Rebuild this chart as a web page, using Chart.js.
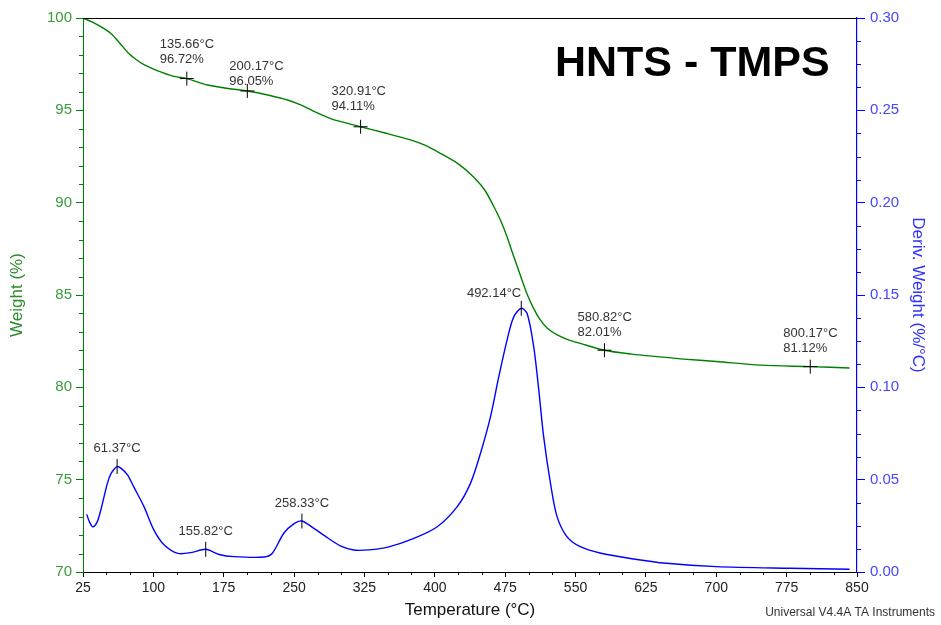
<!DOCTYPE html>
<html>
<head>
<meta charset="utf-8">
<script src="https://cdn.jsdelivr.net/npm/chart.js@4"></script>
<style>
body{margin:0;background:#fff;}
#wrap{width:941px;height:625px;position:relative;}
</style>
</head>
<body>
<div id="wrap"><canvas id="tga" width="941" height="625"></canvas></div>
<script>
// TGA curve (temperature °C, weight %)
const tgaTemp = [25,35,44,55,64,73,82,90,104,122,135.66,158,186,200.17,222,243,257,270,289,305,320.91,345,374,390,406,425,441,453,463,470,477,482,488,493,498,505,512,520,530,541,555,580.82,610,640,665,700,747,800.17,842];
const tgaWeight = [100,99.78,99.53,99.15,98.65,98.12,97.74,97.47,97.15,96.84,96.72,96.37,96.14,96.05,95.83,95.56,95.29,94.97,94.55,94.32,94.11,93.8,93.4,93.1,92.67,92.1,91.41,90.7,89.78,89.05,88.16,87.4,86.53,85.8,85.1,84.3,83.68,83.2,82.85,82.6,82.38,82.01,81.8,81.65,81.53,81.4,81.2,81.12,81.05];

// DTG curve (temperature °C, deriv. weight %/°C)
const dtgTemp = [29,32,35.5,40,44,51,55,61.37,66,72.6,79,90,100.6,111.6,126,140,155.82,170,186,218,227,239,250,258.33,270,286,300,313.5,330,350,377.7,402.6,423.9,438,448.7,459.3,468.2,477,484,492.14,498.4,505.4,510.8,516,523.3,530.3,541,555,576,610,647,700,779,842];
const dtgDeriv = [0.0312,0.027,0.0245,0.027,0.0336,0.048,0.0534,0.0571,0.056,0.0525,0.0462,0.0354,0.0227,0.0146,0.0101,0.0105,0.0123,0.0095,0.0083,0.0081,0.0103,0.021,0.0262,0.0276,0.024,0.0184,0.014,0.0119,0.012,0.0135,0.0182,0.0245,0.0354,0.048,0.0643,0.084,0.1058,0.1256,0.138,0.1428,0.140,0.122,0.0986,0.0733,0.048,0.030,0.019,0.0137,0.0103,0.0072,0.0047,0.0029,0.002,0.0015];

// marked points
const tgaMarkTemp = [135.66,200.17,320.91,580.82,800.17];
const tgaMarkWeight = [96.72,96.05,94.11,82.01,81.12];
const dtgMarkTemp = [61.37,155.82,258.33,492.14];
const dtgMarkDeriv = [0.0571,0.0123,0.0276,0.1428];

// axis ticks
const xTicks = [25,100,175,250,325,400,475,550,625,700,775,850];
const weightTicks = [70,75,80,85,90,95,100];
const derivTicks = [0,0.05,0.10,0.15,0.20,0.25,0.30];

// label placement (pixels from marker)
const tgaLabelOffsets = [[-27,-34],[-18,-25],[-29,-35],[-27,-33],[-27,-33]];
const dtgLabelOffsets = [[0,-18,'center'],[0,-18,'center'],[0,-18,'center'],[0,-15,'right']];

const FONT = "'Liberation Sans', Arial, sans-serif";
const GREEN = '#008000';
const BLUE = '#0000ff';

function pts(xs, ys){ return xs.map((x,i) => ({x:x, y:ys[i]})); }

function minorValues(min, max, step, majors){
    const out = [];
    for(let v = min; v <= max + 1e-9; v += step){
        const r = Math.round(v*10000)/10000;
        if(!majors.some(m => Math.abs(m - r) < 1e-6)) out.push(r);
    }
    return out;
}

const extras = {
    id: 'extras',
    afterDraw(chart){
        const ctx = chart.ctx;
        const {x, y, y1} = chart.scales;
        const area = chart.chartArea;
        ctx.save();
        // top frame line
        ctx.strokeStyle = '#000'; ctx.lineWidth = 1;
        ctx.beginPath(); ctx.moveTo(area.left, area.top + 0.5); ctx.lineTo(area.right, area.top + 0.5); ctx.stroke();

        // minor ticks
        ctx.strokeStyle = '#000';
        minorValues(25, 850, 25, xTicks).forEach(v => {
            const px = Math.round(x.getPixelForValue(v)) + 0.5;
            ctx.beginPath(); ctx.moveTo(px, area.bottom); ctx.lineTo(px, area.bottom + 3); ctx.stroke();
        });
        ctx.strokeStyle = GREEN;
        minorValues(70, 100, 1, weightTicks).forEach(v => {
            const py = Math.round(y.getPixelForValue(v)) + 0.5;
            ctx.beginPath(); ctx.moveTo(area.left - 4, py); ctx.lineTo(area.left, py); ctx.stroke();
        });
        ctx.strokeStyle = BLUE;
        minorValues(0, 0.3, 0.0125, derivTicks).forEach(v => {
            const py = Math.round(y1.getPixelForValue(v)) + 0.5;
            ctx.beginPath(); ctx.moveTo(area.right, py); ctx.lineTo(area.right + 4, py); ctx.stroke();
        });

        // marker labels
        ctx.fillStyle = '#333';
        ctx.font = '13px ' + FONT;
        ctx.textBaseline = 'middle';
        tgaMarkTemp.forEach((t,i) => {
            const px = x.getPixelForValue(t), py = y.getPixelForValue(tgaMarkWeight[i]);
            const [dx, dy] = tgaLabelOffsets[i];
            ctx.textAlign = 'left';
            ctx.fillText(t.toFixed(2) + '°C', px + dx, py + dy);
            ctx.fillText(tgaMarkWeight[i].toFixed(2) + '%', px + dx, py + dy + 15);
        });
        dtgMarkTemp.forEach((t,i) => {
            const px = x.getPixelForValue(t), py = y1.getPixelForValue(dtgMarkDeriv[i]);
            const [dx, dy, al] = dtgLabelOffsets[i];
            ctx.textAlign = al;
            ctx.fillText(t.toFixed(2) + '°C', px + dx, py + dy);
        });

        // heading
        ctx.fillStyle = '#000';
        ctx.textAlign = 'left';
        ctx.textBaseline = 'alphabetic';
        ctx.font = 'bold 43px ' + FONT;
        ctx.fillText('HNTS - TMPS', 555, 76);

        // footer
        ctx.fillStyle = '#333';
        ctx.font = '12px ' + FONT;
        ctx.textAlign = 'right';
        ctx.fillText('Universal V4.4A TA Instruments', 935, 616);
        ctx.restore();
    }
};

new Chart(document.getElementById('tga'), {
    type: 'line',
    data: {
        datasets: [
            {data: pts(tgaTemp, tgaWeight), yAxisID: 'y', borderColor: GREEN, borderWidth: 1.4, pointRadius: 0, tension: 0.3, order: 3},
            {data: pts(dtgTemp, dtgDeriv), yAxisID: 'y1', borderColor: BLUE, borderWidth: 1.4, pointRadius: 0, tension: 0.3, order: 4},
            {data: pts(tgaMarkTemp, tgaMarkWeight), yAxisID: 'y', showLine: false, pointStyle: 'cross', pointRadius: 7, borderColor: '#000', borderWidth: 1, order: 1},
            {data: pts(dtgMarkTemp, dtgMarkDeriv), yAxisID: 'y1', showLine: false, pointStyle: 'line', rotation: 90, pointRadius: 7.5, borderColor: '#000', borderWidth: 1, order: 2}
        ]
    },
    options: {
        responsive: false,
        animation: false,
        events: [],
        layout: {padding: {top: 18, left: 0, right: 0, bottom: 0}},
        plugins: {legend: {display: false}, tooltip: {enabled: false}},
        scales: {
            x: {
                type: 'linear', min: 25, max: 850,
                afterBuildTicks: s => { s.ticks = xTicks.map(v => ({value: v})); },
                afterFit: s => { s.height = 53; },
                border: {color: '#000', width: 1},
                grid: {drawOnChartArea: false, tickLength: 5, tickColor: '#000'},
                ticks: {color: '#222', font: {size: 14, family: FONT}, padding: 3, maxRotation: 0, autoSkip: false},
                title: {display: true, text: 'Temperature (°C)', color: '#111', font: {size: 17, family: FONT}, padding: {top: 0, bottom: 4}}
            },
            y: {
                type: 'linear', position: 'left', min: 70, max: 100,
                afterBuildTicks: s => { s.ticks = weightTicks.map(v => ({value: v})); },
                afterFit: s => { s.width = 83; },
                border: {color: GREEN, width: 1},
                grid: {drawOnChartArea: false, tickLength: 7, tickColor: GREEN},
                ticks: {color: '#3a9a3a', font: {size: 15, family: FONT}, padding: 4},
                title: {display: true, text: 'Weight (%)', color: '#2e8b2e', font: {size: 17, family: FONT}, padding: {top: 7, bottom: 0}}
            },
            y1: {
                type: 'linear', position: 'right', min: 0, max: 0.3,
                afterBuildTicks: s => { s.ticks = derivTicks.map(v => ({value: v})); },
                afterFit: s => { s.width = 84; },
                border: {color: BLUE, width: 1.2},
                grid: {drawOnChartArea: false, tickLength: 8, tickColor: BLUE},
                ticks: {color: '#4646ff', font: {size: 15, family: FONT}, padding: 5, callback: v => v.toFixed(2)},
                title: {display: true, text: 'Deriv. Weight (%/°C)', color: '#3030ff', font: {size: 17, family: FONT}, padding: {top: 13, bottom: 0}}
            }
        }
    },
    plugins: [extras]
});
</script>
</body>
</html>
